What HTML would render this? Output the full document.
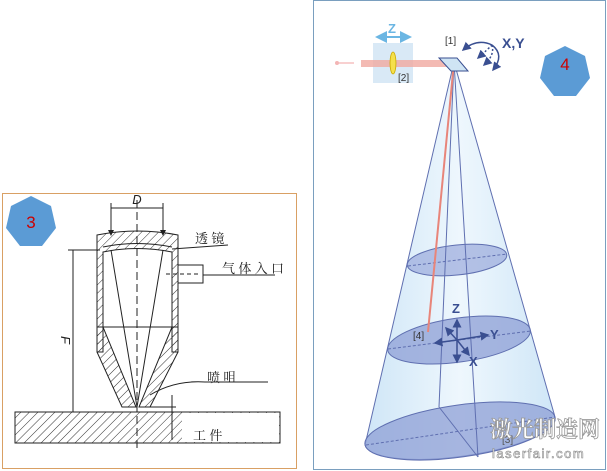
<!DOCTYPE html>
<html><head><meta charset="utf-8"><style>
html,body{margin:0;padding:0;background:#fff;width:607px;height:471px;overflow:hidden}
svg{display:block}
text{font-family:"Liberation Sans","Noto Sans CJK SC",sans-serif}
.cjk{font-family:"Noto Serif CJK SC","Noto Sans CJK SC",serif}
</style></head><body>
<svg width="607" height="471" viewBox="0 0 607 471" xmlns="http://www.w3.org/2000/svg">
<defs>
<pattern id="h" width="6" height="6" patternUnits="userSpaceOnUse" patternTransform="rotate(45)">
<line x1="0" y1="0" x2="0" y2="6" stroke="#333" stroke-width="1"/></pattern>
<linearGradient id="cone" x1="0" x2="1" y1="0" y2="0">
<stop offset="0" stop-color="#cfe6f7"/><stop offset="0.5" stop-color="#eef7fd"/><stop offset="1" stop-color="#cfe6f7"/></linearGradient>
<marker id="a" markerWidth="6" markerHeight="6" refX="5" refY="3" orient="auto"><path d="M0,0 L6,3 L0,6 z" fill="#3a4f91"/></marker>
<marker id="la" markerWidth="6" markerHeight="6" refX="5" refY="3" orient="auto"><path d="M0,0 L6,3 L0,6 z" fill="#6bb6e3"/></marker>
<marker id="k" markerWidth="6" markerHeight="6" refX="5" refY="3" orient="auto"><path d="M0,0 L6,3 L0,6 z" fill="#222"/></marker>
</defs>

<!-- LEFT PANEL -->
<rect x="2.5" y="193.5" width="294" height="275" fill="#fff" stroke="#d9a064" stroke-width="1"/>
<polygon points="31,196 51,206 56,228 42,246 20,246 6,228 11,206" fill="#5b9bd5"/>
<text x="31" y="228" font-size="17" fill="#c00" text-anchor="middle">3</text>

<g stroke="#222" stroke-width="1" fill="none">
<!-- workpiece -->
<rect x="15" y="412" width="265" height="31" fill="url(#h)"/>
<rect x="182" y="413" width="97" height="29" fill="#fff" stroke="none"/>
<line x1="15" y1="412" x2="280" y2="412"/><line x1="15" y1="443" x2="280" y2="443"/><line x1="280" y1="412" x2="280" y2="443"/>
<!-- housing walls -->
<path d="M97,235 Q137,227 178,235 L178,352 L172,352 L172,252 Q137,245 103,252 L103,352 L97,352 Z" fill="url(#h)"/>
<!-- cone nozzle -->
<path d="M97,327 L103,327 L136,407 L122,407 L97,352 Z" fill="url(#h)"/>
<path d="M172,327 L178,327 L178,352 L150,407 L139,407 Z" fill="url(#h)"/>
<line x1="103" y1="327" x2="172" y2="327"/>
<path d="M103,247 Q137,240 172,247"/>
<!-- gas inlet -->
<rect x="178" y="265" width="25" height="18" fill="#fff"/>
<line x1="166" y1="274" x2="200" y2="274" stroke-dasharray="4,3"/>
<!-- beams -->
<line x1="111" y1="250" x2="137" y2="407"/><line x1="163" y1="250" x2="137" y2="407"/>
<line x1="137" y1="200" x2="137" y2="452" stroke-dasharray="8,4"/>
<!-- D dimension -->
<line x1="111" y1="203" x2="111" y2="235" marker-end="url(#k)"/>
<line x1="163" y1="203" x2="163" y2="235" marker-end="url(#k)"/>
<line x1="111" y1="208" x2="163" y2="208"/>
<!-- F dimension -->
<line x1="73" y1="250" x2="73" y2="412"/>
<line x1="68" y1="250" x2="100" y2="250"/>
<line x1="68" y1="412" x2="135" y2="412"/>
<!-- d -->
<line x1="172" y1="395" x2="172" y2="440"/>
<line x1="150" y1="407" x2="176" y2="407"/>
<!-- leaders -->
<line x1="172" y1="249" x2="228" y2="245"/>
<line x1="203" y1="275" x2="275" y2="275"/>
<path d="M150,395 Q175,380 205,382 L268,382"/>
</g>
<text x="137" y="204" font-size="13" font-style="italic" text-anchor="middle" fill="#222">D</text>
<text x="62" y="345" font-size="13" font-style="italic" fill="#222" transform="rotate(90 66 340)">F</text>
<text x="195" y="243" font-size="13" class="cjk" fill="#222">透 镜</text>
<text x="222" y="273" font-size="13" class="cjk" fill="#222">气 体 入 口</text>
<text x="207" y="382" font-size="13" class="cjk" fill="#222">喷 咀</text>
<text x="193" y="440" font-size="13" class="cjk" fill="#222">工 件</text>

<!-- RIGHT PANEL -->
<rect x="313.5" y="0.5" width="292" height="469" fill="#fff" stroke="#7a9fbf" stroke-width="1"/>
<!-- cone -->
<path d="M454,62 L365,445 A95,25 -8 0 0 555,417 Z" fill="url(#cone)" stroke="#5f6fb0" stroke-width="1"/>
<ellipse cx="460" cy="431" rx="96" ry="26" transform="rotate(-8 460 431)" fill="#8e9fd6" fill-opacity="0.75" stroke="#5f6fb0"/>
<ellipse cx="457" cy="260" rx="50" ry="15" transform="rotate(-6 457 260)" fill="#9aaadc" fill-opacity="0.7" stroke="#5f6fb0"/>
<ellipse cx="459" cy="340" rx="72" ry="22" transform="rotate(-8 459 340)" fill="#8e9fd6" fill-opacity="0.75" stroke="#5f6fb0"/>
<g stroke="#5f6fb0" stroke-width="1" fill="none">
<line x1="454" y1="62" x2="439" y2="407"/><line x1="454" y1="62" x2="478" y2="457"/>
<line x1="366" y1="445" x2="555" y2="417" stroke-dasharray="3,2"/>
<line x1="439" y1="407" x2="478" y2="457"/>
<line x1="408" y1="266" x2="507" y2="254" stroke-dasharray="3,2"/>
<line x1="388" y1="349" x2="531" y2="331" stroke-dasharray="3,2"/>
</g>
<!-- red beam -->
<line x1="454" y1="62" x2="428" y2="332" stroke="#e8857a" stroke-width="2"/>
<!-- axes -->
<g stroke="#3a4f91" stroke-width="1.5" fill="none">
<line x1="457" y1="340" x2="457" y2="320" marker-end="url(#a)"/>
<line x1="457" y1="340" x2="457" y2="362" marker-end="url(#a)"/>
<line x1="457" y1="340" x2="488" y2="335" marker-end="url(#a)"/>
<line x1="457" y1="340" x2="435" y2="343" marker-end="url(#a)"/>
<line x1="457" y1="340" x2="469" y2="355" marker-end="url(#a)"/>
<line x1="457" y1="340" x2="446" y2="328" marker-end="url(#a)"/>
</g>
<text x="452" y="313" font-size="13" font-weight="bold" fill="#3a4f91">Z</text>
<text x="490" y="339" font-size="13" font-weight="bold" fill="#3a4f91">Y</text>
<text x="469" y="366" font-size="13" font-weight="bold" fill="#3a4f91">X</text>
<text x="413" y="339" font-size="10" fill="#333">[4]</text>
<text x="502" y="443" font-size="10" fill="#555">[3]</text>

<!-- top optics -->
<rect x="373" y="43" width="40" height="40" fill="#cfe4f4" fill-opacity="0.8"/>
<rect x="361" y="60" width="86" height="7" fill="#f0a9a0" fill-opacity="0.8"/>
<ellipse cx="393" cy="63" rx="3" ry="11" fill="#f5e04a" stroke="#c9a800" stroke-width="0.8"/>
<line x1="338" y1="63" x2="354" y2="63" stroke="#f0a0a0" stroke-width="1"/>
<circle cx="337" cy="63" r="2" fill="#f3b5b5"/>
<line x1="377" y1="37" x2="410" y2="37" stroke="#6bb6e3" stroke-width="2" marker-end="url(#la)"/>
<line x1="410" y1="37" x2="377" y2="37" stroke="#6bb6e3" stroke-width="2" marker-end="url(#la)"/>
<text x="388" y="33" font-size="13" font-weight="bold" fill="#6bb6e3">Z</text>
<text x="398" y="81" font-size="10" fill="#333">[2]</text>
<polygon points="439,58 457,58 468,71 451,71" fill="#cfe4f4" stroke="#3a4f91" stroke-width="1"/>
<text x="445" y="44" font-size="10" fill="#333">[1]</text>
<g stroke="#3a4f91" stroke-width="1.5" fill="none">
<path d="M492,45 Q477,38 463,50" marker-end="url(#a)"/>
<path d="M492,45 Q505,55 493,70" marker-end="url(#a)"/>
<path d="M492,45 Q487,50 478,58" stroke-dasharray="2,2" marker-end="url(#a)"/>
<path d="M492,45 Q495,55 484,65" stroke-dasharray="2,2" marker-end="url(#a)"/>
</g>
<text x="502" y="48" font-size="14" font-weight="bold" fill="#3a4f91">X,Y</text>
<polygon points="565,46 585,56 590,78 576,96 554,96 540,78 545,56" fill="#5b9bd5"/>
<text x="565" y="70" font-size="17" fill="#c00" text-anchor="middle">4</text>

<!-- watermark -->
<text x="490" y="437" font-size="22" font-weight="bold" fill="#fff" stroke="#999" stroke-width="0.8" class="cjk">激光制造网</text>
<text x="492" y="458" font-size="13" fill="#fff" stroke="#888" stroke-width="0.6" letter-spacing="1.5">laserfair.com</text>
</svg>
</body></html>
